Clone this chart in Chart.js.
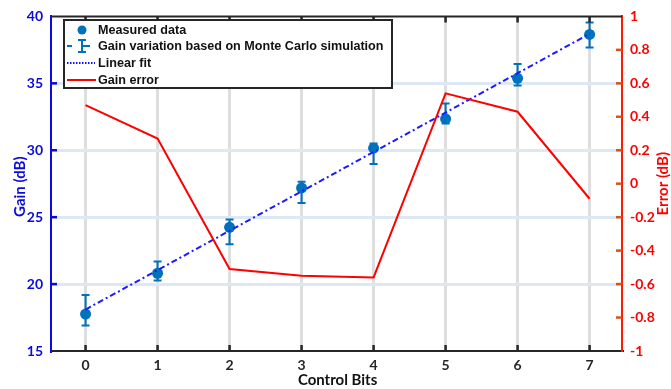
<!DOCTYPE html>
<html>
<head>
<meta charset="utf-8">
<script src="https://cdn.jsdelivr.net/npm/chart.js@4.4.1/dist/chart.umd.min.js"></script>
<style>
  html, body { margin: 0; padding: 0; background: #fff; }
  #wrap { width: 671px; height: 389px; }
</style>
</head>
<body>
<div id="wrap"><canvas id="gainChart" width="671" height="389"></canvas></div>
<script>
// values
const controlBits = [0, 1, 2, 3, 4, 5, 6, 7];
const gainMeasured = [17.76, 20.81, 24.24, 27.18, 30.15, 32.35, 35.37, 38.65];
const gainLow = [16.9, 20.27, 22.97, 26.05, 28.97, 31.99, 34.83, 37.67];
const gainHigh = [19.19, 21.69, 24.83, 27.65, 30.51, 33.5, 36.45, 39.54];
const fitBits = [0, 7];
const fitGain = [18.1, 38.7];
const gainError = [0.47, 0.27, -0.51, -0.55, -0.56, 0.54, 0.43, -0.09];

const xTicks = [0, 1, 2, 3, 4, 5, 6, 7];
const gainTicks = [15, 20, 25, 30, 35, 40];
const errorTicks = [-1, -0.8, -0.6, -0.4, -0.2, 0, 0.2, 0.4, 0.6, 0.8, 1];
const legendLabels = ["Measured data", "Gain variation based on Monte Carlo simulation", "Linear fit", "Gain error"];

const BLUE_MARK = "#0072BD";
const BLUE_AXIS = "#0a0adc";
const RED = "#ff0000";
const TICK_FONT = { family: "Lato", size: 14, weight: "bold" };

const toPoints = (xs, ys) => xs.map((x, i) => ({ x: x, y: ys[i] }));

const decor = {
    id: "decor",
    beforeDatasetsDraw(chart) {
        const ctx = chart.ctx;
        const sx = chart.scales.x, sy = chart.scales.y;
        ctx.save();
        ctx.strokeStyle = BLUE_MARK;
        ctx.lineWidth = 2;
        controlBits.forEach((b, i) => {
            const px = sx.getPixelForValue(b);
            const lo = sy.getPixelForValue(gainLow[i]);
            const hi = sy.getPixelForValue(gainHigh[i]);
            ctx.beginPath();
            ctx.moveTo(px, lo); ctx.lineTo(px, hi);
            ctx.moveTo(px - 4, lo); ctx.lineTo(px + 4, lo);
            ctx.moveTo(px - 4, hi); ctx.lineTo(px + 4, hi);
            ctx.stroke();
        });
        ctx.restore();
    },
    afterDraw(chart) {
        const ctx = chart.ctx;
        const a = chart.chartArea;
        const sx = chart.scales.x, sy = chart.scales.y, sy2 = chart.scales.y2;
        ctx.save();

        // top box line
        ctx.strokeStyle = "#262626";
        ctx.lineWidth = 2;
        ctx.beginPath();
        ctx.moveTo(a.left, a.top); ctx.lineTo(a.right, a.top);
        ctx.stroke();

        // inward tick marks
        ctx.lineWidth = 2.5;
        xTicks.forEach(v => {
            const px = sx.getPixelForValue(v);
            ctx.beginPath();
            ctx.moveTo(px, a.bottom); ctx.lineTo(px, a.bottom - 6);
            ctx.moveTo(px, a.top); ctx.lineTo(px, a.top + 6);
            ctx.stroke();
        });
        ctx.strokeStyle = BLUE_AXIS;
        gainTicks.slice(1, -1).forEach(v => {
            const py = sy.getPixelForValue(v);
            ctx.beginPath();
            ctx.moveTo(a.left, py); ctx.lineTo(a.left + 6, py);
            ctx.stroke();
        });
        ctx.strokeStyle = "#d95319";
        errorTicks.slice(1, -1).forEach(v => {
            const py = sy2.getPixelForValue(v);
            ctx.beginPath();
            ctx.moveTo(a.right, py); ctx.lineTo(a.right - 6, py);
            ctx.stroke();
        });

        // axis titles
        ctx.font = "bold 15px Lato";
        ctx.textAlign = "center";
        ctx.textBaseline = "middle";
        const midY = (a.top + a.bottom) / 2;
        ctx.fillStyle = BLUE_AXIS;
        ctx.save();
        ctx.translate(20, midY + 3);
        ctx.rotate(-Math.PI / 2);
        ctx.fillText("Gain (dB)", 0, 0);
        ctx.restore();
        ctx.fillStyle = RED;
        ctx.save();
        ctx.translate(663, midY);
        ctx.rotate(-Math.PI / 2);
        ctx.fillText("Error (dB)", 0, 0);
        ctx.restore();
        ctx.fillStyle = "#111";
        ctx.fillText("Control Bits", sx.getPixelForValue(3.5), 380);

        // legend box
        const bx = 64, by = 20, bw = 328, bh = 68;
        ctx.fillStyle = "#fff";
        ctx.fillRect(bx, by, bw, bh);
        ctx.strokeStyle = "#262626";
        ctx.lineWidth = 2;
        ctx.strokeRect(bx, by, bw, bh);

        const rows = [30, 46, 63, 80];
        const tx = 98;
        // measured marker
        ctx.fillStyle = BLUE_MARK;
        ctx.beginPath();
        ctx.arc(82, rows[0], 4.5, 0, Math.PI * 2);
        ctx.fill();
        // error bar symbol
        ctx.strokeStyle = BLUE_MARK;
        ctx.lineWidth = 2;
        ctx.beginPath();
        ctx.moveTo(67, rows[1]); ctx.lineTo(72, rows[1]);
        ctx.moveTo(82, rows[1] - 6); ctx.lineTo(82, rows[1] + 6);
        ctx.moveTo(78, rows[1] - 6); ctx.lineTo(86, rows[1] - 6);
        ctx.moveTo(78, rows[1] + 6); ctx.lineTo(86, rows[1] + 6);
        ctx.moveTo(82, rows[1]); ctx.lineTo(90, rows[1]);
        ctx.stroke();
        // linear fit symbol
        ctx.strokeStyle = "#1010ff";
        ctx.setLineDash([1.5, 1.5]);
        ctx.beginPath();
        ctx.moveTo(67, rows[2]); ctx.lineTo(95, rows[2]);
        ctx.stroke();
        ctx.setLineDash([]);
        // gain error symbol
        ctx.strokeStyle = RED;
        ctx.beginPath();
        ctx.moveTo(67, rows[3]); ctx.lineTo(96, rows[3]);
        ctx.stroke();

        ctx.fillStyle = "#111";
        ctx.font = "bold 12.6px 'Liberation Sans'";
        ctx.textAlign = "left";
        legendLabels.forEach((t, i) => ctx.fillText(t, tx, rows[i] + 1));
        ctx.restore();
    }
};

const CHART = document.getElementById("gainChart");

let gainChart = new Chart(CHART, {
    type: "line",
    data: {
        datasets: [
            {
                label: legendLabels[0],
                data: toPoints(controlBits, gainMeasured),
                yAxisID: "y",
                showLine: false,
                pointRadius: 5.5,
                pointBackgroundColor: BLUE_MARK,
                pointBorderColor: BLUE_MARK,
                pointBorderWidth: 0,
                order: 2
            },
            {
                label: legendLabels[2],
                data: toPoints(fitBits, fitGain),
                yAxisID: "y",
                borderColor: "#1a1aff",
                borderWidth: 2,
                borderDash: [6, 3, 2, 3],
                pointRadius: 0,
                fill: false,
                order: 1
            },
            {
                label: legendLabels[3],
                data: toPoints(controlBits, gainError),
                yAxisID: "y2",
                borderColor: RED,
                borderWidth: 2,
                pointRadius: 0,
                fill: false,
                lineTension: 0,
                order: 0
            }
        ]
    },
    plugins: [decor],
    options: {
        responsive: false,
        animation: false,
        events: [],
        layout: { padding: { top: 11, left: 0, right: 0, bottom: 0 } },
        plugins: { legend: { display: false }, tooltip: { enabled: false } },
        scales: {
            x: {
                type: "linear",
                min: -0.48,
                max: 7.45,
                afterBuildTicks: s => { s.ticks = xTicks.map(v => ({ value: v })); },
                afterFit: s => { s.height = 38; },
                grid: { color: "#dedede", lineWidth: 3, drawTicks: false },
                border: { color: "#262626", width: 2 },
                ticks: { color: "#262626", font: TICK_FONT, padding: 6, maxRotation: 0 }
            },
            y: {
                position: "left",
                min: 15,
                max: 40,
                afterBuildTicks: s => { s.ticks = gainTicks.map(v => ({ value: v })); },
                afterFit: s => { s.width = 51; },
                grid: {
                    color: c => (c.tick && (c.tick.value === 15 || c.tick.value === 40)) ? "rgba(0,0,0,0)" : "#dce8f4",
                    lineWidth: 3,
                    drawTicks: false
                },
                border: { color: BLUE_AXIS, width: 2 },
                ticks: { color: BLUE_AXIS, font: TICK_FONT, padding: 8 }
            },
            y2: {
                position: "right",
                min: -1,
                max: 1,
                afterBuildTicks: s => { s.ticks = errorTicks.map(v => ({ value: v })); },
                afterFit: s => { s.width = 49; },
                grid: { display: false, drawTicks: false },
                border: { color: "#ff1a00", width: 2 },
                ticks: { color: RED, font: TICK_FONT, padding: 8, callback: v => String(Math.round(v * 10) / 10) }
            }
        }
    }
});
</script>
</body>
</html>
